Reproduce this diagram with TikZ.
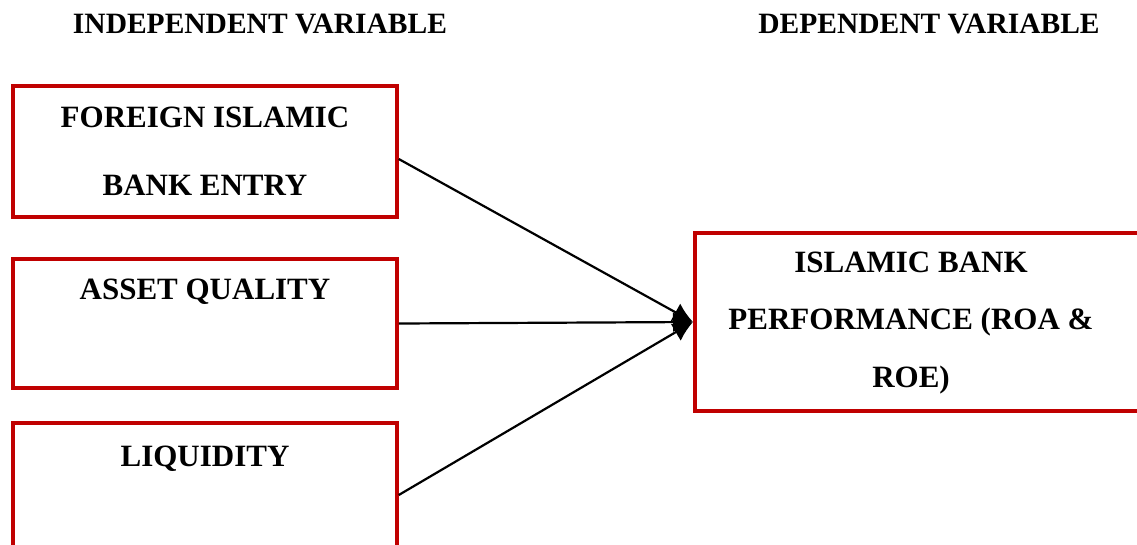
\documentclass[tikz,border=0pt]{standalone}
\usepackage{fontspec}
\setmainfont{Liberation Serif}
\usetikzlibrary{arrows.meta,positioning}

\definecolor{boxred}{HTML}{C00000}

\begin{document}
\begin{tikzpicture}[
    x=1pt, y=-1pt,
    varbox/.style={draw=boxred, line width=3.5pt, minimum width=384pt, align=center, inner sep=0pt,
      font=\fontsize{31}{68}\selectfont\bfseries},
    head/.style={font=\fontsize{29.5}{34}\selectfont\bfseries, inner sep=0pt},
    arrow/.style={-{Latex[length=20pt, width=20pt]}, line width=2.2pt}
  ]
  \useasboundingbox (0,0) rectangle (1137,544);
  \node[head] (indep) at (260,24) {INDEPENDENT VARIABLE};
  \node[head] (dep) at (929,24) {DEPENDENT VARIABLE};
  \node[varbox, minimum height=131pt] (entry) at (205,151.5) {FOREIGN ISLAMIC\\BANK ENTRY};
  \node[varbox, minimum height=129pt] (asset) at (205,323.5) {ASSET QUALITY\\\mbox{}};
  \node[varbox, minimum height=134pt] (liq) at (205,490) {LIQUIDITY\\\mbox{}};
  \node[draw=boxred, line width=3.5pt, minimum width=480pt, minimum height=178pt, inner sep=0pt,
    anchor=west] (perf) at (693,322) {};
  \node[align=center, inner sep=0pt, font=\fontsize{31}{57.5}\selectfont\bfseries] (perftext) at (911,323)
    {ISLAMIC BANK\\PERFORMANCE (ROA \&\\ROE)};
  \draw[arrow] ([yshift=-7.5pt]entry.east) -- (perf.west);
  \draw[arrow] (asset.east) -- (perf.west);
  \draw[arrow] ([yshift=-5pt]liq.east) -- (perf.west);
\end{tikzpicture}
\end{document}
